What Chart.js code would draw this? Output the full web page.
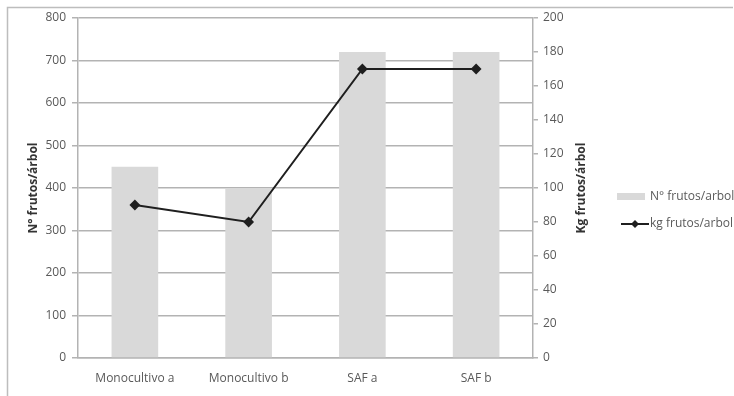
<!DOCTYPE html>
<html>
<head>
<meta charset="utf-8">
<script src="https://cdn.jsdelivr.net/npm/chart.js@4/dist/chart.umd.min.js"></script>
<style>
  html, body { margin: 0; padding: 0; background: #fff; }
  #wrap { width: 734px; height: 396px; position: relative; }
</style>
</head>
<body>
<div id="wrap"><canvas id="c" width="734" height="396"></canvas></div>
<script>
// Categories and series
const categories = ['Monocultivo a', 'Monocultivo b', 'SAF a', 'SAF b'];
const frutosCount = [450, 400, 720, 720];   // N° frutos/árbol (left axis)
const frutosKg = [90, 80, 170, 170];        // Kg frutos/árbol (right axis)
const leftTicks = [0, 100, 200, 300, 400, 500, 600, 700, 800];
const rightTicks = [0, 20, 40, 60, 80, 100, 120, 140, 160, 180, 200];
const seriesNames = ['N° frutos/arbol', 'kg frutos/arbol'];
const rightTitle = 'Kg frutos/árbol';

const FONT = '"Open Sans", "Liberation Sans", sans-serif';
const TEXT = '#595959';
const GRID = '#b3b3b3';

// Outer frame, right-axis title and a hand-drawn legend
const framePlugin = {
  id: 'frameAndLegend',
  afterDraw(chart) {
    const ctx = chart.ctx;
    const area = chart.chartArea;
    ctx.save();
    ctx.strokeStyle = '#bdbdbd';
    ctx.lineWidth = 1.5;
    ctx.beginPath();
    ctx.moveTo(7.5, 400);
    ctx.lineTo(7.5, 7.5);
    ctx.lineTo(733, 7.5);
    ctx.stroke();

    // right axis title, reading bottom to top
    ctx.save();
    ctx.translate(area.right + 49, (area.top + area.bottom) / 2);
    ctx.rotate(-Math.PI / 2);
    ctx.fillStyle = '#333';
    ctx.font = 'bold 12px ' + FONT;
    ctx.textAlign = 'center';
    ctx.textBaseline = 'middle';
    ctx.fillText(rightTitle, 0, 0);
    ctx.restore();

    const x0 = area.right + 84;
    const y1 = 197, y2 = 224;
    // bar entry
    ctx.fillStyle = '#d9d9d9';
    ctx.fillRect(x0, y1 - 4, 28, 7);
    // line entry
    ctx.strokeStyle = '#1f1f1f';
    ctx.lineWidth = 2;
    ctx.beginPath();
    ctx.moveTo(x0 + 4, y2);
    ctx.lineTo(x0 + 32, y2);
    ctx.stroke();
    ctx.fillStyle = '#1f1f1f';
    ctx.beginPath();
    ctx.moveTo(x0 + 18, y2 - 4);
    ctx.lineTo(x0 + 22, y2);
    ctx.lineTo(x0 + 18, y2 + 4);
    ctx.lineTo(x0 + 14, y2);
    ctx.closePath();
    ctx.fill();

    ctx.fillStyle = TEXT;
    ctx.font = '12px ' + FONT;
    ctx.textBaseline = 'middle';
    ctx.textAlign = 'left';
    ctx.fillText(seriesNames[0], x0 + 33, y1);
    ctx.fillText(seriesNames[1], x0 + 33, y2);
    ctx.restore();
  }
};

new Chart(document.getElementById('c'), {
  data: {
    labels: categories,
    datasets: [
      {
        type: 'line',
        label: seriesNames[1],
        data: frutosKg,
        yAxisID: 'y1',
        borderColor: '#1f1f1f',
        backgroundColor: '#1f1f1f',
        borderWidth: 2,
        pointStyle: 'rectRot',
        pointRadius: 4,
        pointHoverRadius: 4,
        tension: 0,
        order: 0
      },
      {
        type: 'bar',
        label: seriesNames[0],
        data: frutosCount,
        yAxisID: 'y',
        backgroundColor: '#d9d9d9',
        borderWidth: 0,
        barPercentage: 0.41,
        categoryPercentage: 1,
        order: 1
      }
    ]
  },
  options: {
    responsive: false,
    animation: false,
    layout: { padding: { top: 18, left: 26, right: 134, bottom: 0 } },
    plugins: { legend: { display: false }, tooltip: { enabled: false } },
    scales: {
      x: {
        offset: true,
        grid: { display: false, drawTicks: false },
        border: { display: true, color: GRID, width: 1.5 },
        ticks: { color: TEXT, font: { family: FONT, size: 12 }, padding: 13, maxRotation: 0 },
        afterFit(s) { s.height = 38; }
      },
      y: {
        position: 'left',
        min: 0, max: 800,
        afterBuildTicks(s) { s.ticks = leftTicks.map(v => ({ value: v })); },
        grid: { color: GRID, lineWidth: 1.5, tickLength: 6, drawTicks: true },
        border: { display: true, color: GRID, width: 1.5 },
        ticks: { color: TEXT, font: { family: FONT, size: 12 }, padding: 6 },
        title: { display: true, text: 'N° frutos/árbol', color: '#333', font: { family: FONT, size: 12, weight: 'bold' }, padding: { top: 0, bottom: 0 } },
        afterFit(s) { s.width = 52; }
      },
      y1: {
        position: 'right',
        min: 0, max: 200,
        afterBuildTicks(s) { s.ticks = rightTicks.map(v => ({ value: v })); },
        grid: { drawOnChartArea: false, color: GRID, lineWidth: 1.5, tickLength: 5 },
        border: { display: true, color: GRID, width: 1.5 },
        ticks: { color: TEXT, font: { family: FONT, size: 12 }, padding: 5 },
        afterFit(s) { s.width = 67; }
      }
    }
  },
  plugins: [framePlugin]
});
</script>
</body>
</html>
